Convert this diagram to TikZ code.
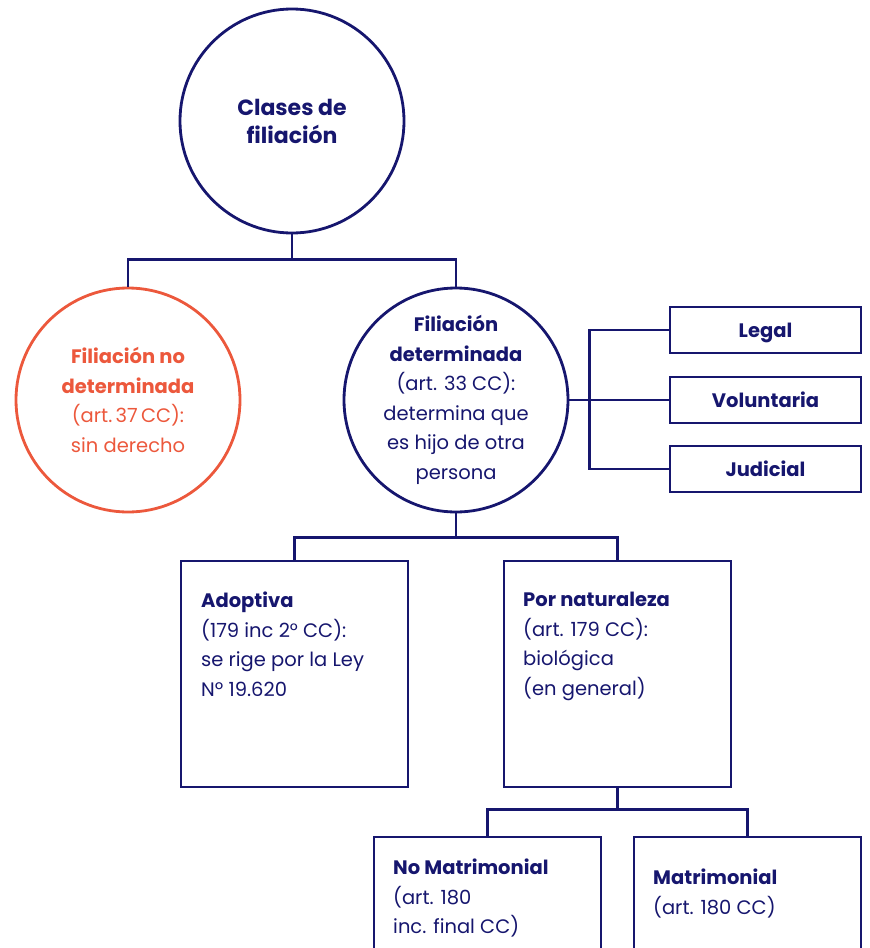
\documentclass[tikz,border=0pt]{standalone}
\usepackage{fontspec}
\setmainfont{Poppins}
\usetikzlibrary{positioning}
\definecolor{navy}{RGB}{22,22,110}
\definecolor{coral}{RGB}{236,88,60}
\tikzstyle{bigcircle}=[circle,draw=navy,text=navy,line width=2.8pt,minimum size=224pt,inner sep=0pt,align=center]
\tikzstyle{box}=[rectangle,draw=navy,line width=2.8pt,minimum width=227pt,minimum height=226pt,inner sep=0pt]
\tikzstyle{smallbox}=[rectangle,draw=navy,text=navy,line width=2.8pt,minimum width=191pt,minimum height=46pt,inner sep=0pt,text height=17pt,text depth=2pt,font=\bfseries\fontsize{19.5}{22}\selectfont]
\tikzstyle{boxtext}=[text=navy,align=left,anchor=north west,inner sep=0pt]
\tikzstyle{link} = [draw=navy,line width=2.8pt]

\begin{document}
\begin{tikzpicture}[x=1pt,y=-1pt,font=\fontsize{19.5}{29.5}\selectfont]
  \useasboundingbox (0,0) rectangle (870,948);
  \clip (0,0) rectangle (870,948);

    % the three circles
    \node[bigcircle,font=\bfseries\fontsize{22}{28}\selectfont] (clases) at (292,121) {Clases de\\filiación};
    \node[bigcircle,draw=coral,text=coral] (nodet) at (128,400)
        {\textbf{Filiación no}\\\textbf{determinada}\\(art.\,37\,CC):\\sin derecho};
    \node[bigcircle] (det) at (456,400)
        {\textbf{Filiación}\\\textbf{determinada}\\(art. 33 CC):\\determina que\\es hijo de otra\\persona};

    % legal / voluntaria / judicial
    \foreach \pos/\name/\label in {{(765.5,330)/legal/Legal}, {(765.5,400)/volun/Voluntaria}, {(765.5,469)/judic/Judicial}}
        \node[smallbox] (\name) at \pos {\label};

    % the big boxes
    \foreach \pos/\name in {{(294.5,674)/adop}, {(617.5,674)/nat}, {(487.5,950)/nomat}, {(747.5,950)/mat}}
        \node[box] (\name) at \pos {};

    \node[boxtext] (adoptxt) at (201,592) {\textbf{Adoptiva}\\(179 inc 2° CC):\\se rige por la Ley\\Nº 19.620};
    \node[boxtext] (nattxt) at (523,592) {\textbf{Por naturaleza}\\(art. 179 CC):\\biológica\\(en general)};
    \node[boxtext] (nomattxt) at (393,859) {\textbf{No Matrimonial}\\(art. 180\\inc. final CC)};
    \node[boxtext] (mattxt) at (653,869) {\textbf{Matrimonial}\\(art. 180 CC)};

    % connectors
    \path[link] (clases.south) -- ++(0,25) -| (nodet.north);
    \path[link] (clases.south) -- ++(0,25) -| (det.north);
    \path[link] (det.east) -- (volun.west);
    \path[link] (legal.west) -- ++(-79,0) |- (judic.west);
    \path[link] (det.south) -- ++(0,24) -| (adop.north);
    \path[link] (det.south) -- ++(0,24) -| (nat.north);
    \path[link] (nat.south) -- ++(0,21) -| (nomat.north);
    \path[link] (nat.south) -- ++(0,21) -| (mat.north);

\end{tikzpicture}
\end{document}
